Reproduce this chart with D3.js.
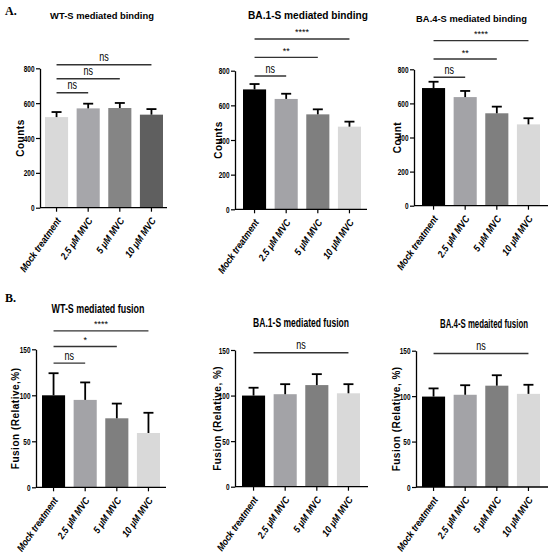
<!DOCTYPE html>
<html lang="en">
<head>
<meta charset="UTF-8">
<title>MVC binding and fusion</title>
<script src="https://d3js.org/d3.v7.min.js"></script>
<style>
  *{margin:0; padding:0; box-sizing:border-box;}
  body{background:#fff;}
  text{font-family:"Liberation Sans",Arial,sans-serif;}
</style>
</head>
<body>
<script>
// groups on the x axis
const groups = ["Mock treatment", "2.5 μM MVC", "5 μM MVC", "10 μM MVC"];

// A. binding counts (mean, upper SD)
const wtBindMean = [520, 570, 572, 534];
const wtBindSd = [29, 27, 29, 32];
const ba1BindMean = [692, 637, 548, 477];
const ba1BindSd = [31, 30, 29, 29];
const ba4BindMean = [690, 637, 542, 477];
const ba4BindSd = [37, 36, 39, 36];

// B. relative fusion %
const wtFusMean = [100, 95, 75, 59];
const wtFusSd = [24, 19, 16, 22];
const ba1FusMean = [100, 101.5, 111.5, 102.5];
const ba1FusSd = [8.6, 11, 12, 10];
const ba4FusMean = [99.5, 101.5, 111.5, 102.5];
const ba4FusSd = [9, 10.5, 11.5, 10];

const bindTicks = [0, 200, 400, 600, 800];
const fusTicks = [0, 50, 100, 150];

// significance: [from, to, label, height in data units]
const wtBindSig = [[0, 1, "ns", 660], [0, 2, "ns", 740], [0, 3, "ns", 820]];
const ba1BindSig = [[0, 1, "ns", 769], [0, 2, "**", 877], [0, 3, "****", 983]];
const ba4BindSig = [[0, 1, "ns", 753], [0, 2, "**", 860], [0, 3, "****", 968]];
const wtFusSig = [[0, 1, "ns", 135], [0, 2, "*", 153], [0, 3, "****", 170]];
const ba1FusSig = [[0, 3, "ns", 147]];
const ba4FusSig = [[0, 3, "ns", 147]];

const greysA = ["#d9d9d9", "#a6a6aa", "#858585", "#5f5f5f"];
const greysB = ["#000000", "#a3a3a7", "#7f7f7f", "#d9d9d9"];

const panels = [
  {title:"WT-S mediated binding", ylab:"Counts", mean:wtBindMean, sd:wtBindSd, sig:wtBindSig, fill:greysA, ticks:bindTicks, max:800,
   ax:40, y0:207.7, y1:68.3, bx:45, xEnd:167, tx:102, ty:18.5, tsize:9.5, tw:104, lx:20},
  {title:"BA.1-S mediated binding", ylab:"Counts", mean:ba1BindMean, sd:ba1BindSd, sig:ba1BindSig, fill:greysB, ticks:bindTicks, max:800,
   ax:235, y0:209.3, y1:70.7, bx:243, xEnd:367, tx:308, ty:19, tsize:10, tw:120, lx:218},
  {title:"BA.4-S mediated binding", ylab:"Count", mean:ba4BindMean, sd:ba4BindSd, sig:ba4BindSig, fill:greysB, ticks:bindTicks, max:800,
   ax:414, y0:205.7, y1:69.3, bx:422, xEnd:548, tx:471.5, ty:22, tsize:9.5, tw:111, lx:397},
  {title:"WT-S mediated fusion", ylab:"Fusion (Relative,%)", mean:wtFusMean, sd:wtFusSd, sig:wtFusSig, fill:greysB, ticks:fusTicks, max:150,
   ax:36, y0:487.3, y1:349.3, bx:42, xEnd:166, tx:98, ty:313, tsize:12, tw:93, lx:15},
  {title:"BA.1-S mediated fusion", ylab:"Fusion (Relative, %)", mean:ba1FusMean, sd:ba1FusSd, sig:ba1FusSig, fill:greysB, ticks:fusTicks, max:150,
   ax:235, y0:486.7, y1:350, bx:242, xEnd:368, tx:301, ty:327, tsize:12, tw:96, lx:217},
  {title:"BA.4-S medaited fusion", ylab:"Fusion (Relative, %)", mean:ba4FusMean, sd:ba4FusSd, sig:ba4FusSig, fill:greysB, ticks:fusTicks, max:150,
   ax:416, y0:487, y1:350.7, bx:422, xEnd:548, tx:484, ty:328, tsize:12, tw:88, lx:396}
];

// squeeze text horizontally (narrow font look)
function condense(sel, f){
  sel.each(function(){
    const w = this.getComputedTextLength();
    d3.select(this).attr("textLength", w * f).attr("lengthAdjust", "spacingAndGlyphs");
  });
}

const svg = d3.select("body").append("svg")
  .attr("width", 550).attr("height", 558);

// panel letters
svg.append("text").attr("x", 5).attr("y", 15).text("A.")
  .style("font-family", "'Liberation Serif','Times New Roman',serif").attr("font-weight", "bold").attr("font-size", 12);
svg.append("text").attr("x", 5).attr("y", 302).text("B.")
  .style("font-family", "'Liberation Serif','Times New Roman',serif").attr("font-weight", "bold").attr("font-size", 12);

panels.forEach(function(p){
  const g = svg.append("g");
  const y = d3.scaleLinear().domain([0, p.max]).range([p.y0, p.y1]);
  const x = d3.scaleBand().domain(groups).range([p.bx, p.bx + 118]).paddingInner(0.27).paddingOuter(0);
  const bw = x.bandwidth();

  // bars
  g.selectAll("rect.bar").data(groups).enter().append("rect")
    .attr("x", function(d){ return x(d); })
    .attr("y", function(d, i){ return y(p.mean[i]); })
    .attr("width", bw)
    .attr("height", function(d, i){ return y(0) - y(p.mean[i]); })
    .attr("fill", function(d, i){ return p.fill[i]; });

  // upper error bars
  const err = g.selectAll("g.err").data(groups).enter().append("g");
  err.append("line")
    .attr("x1", function(d){ return x(d) + bw / 2; })
    .attr("x2", function(d){ return x(d) + bw / 2; })
    .attr("y1", function(d, i){ return y(p.mean[i]); })
    .attr("y2", function(d, i){ return y(p.mean[i] + p.sd[i]); })
    .attr("stroke", "#000").attr("stroke-width", 1.8);
  err.append("line")
    .attr("x1", function(d){ return x(d) + bw / 2 - 5; })
    .attr("x2", function(d){ return x(d) + bw / 2 + 5; })
    .attr("y1", function(d, i){ return y(p.mean[i] + p.sd[i]); })
    .attr("y2", function(d, i){ return y(p.mean[i] + p.sd[i]); })
    .attr("stroke", "#000").attr("stroke-width", 1.8);

  // y axis
  const yAxis = g.append("g").attr("transform", "translate(" + p.ax + ",0)")
    .call(d3.axisLeft(y).tickValues(p.ticks).tickSize(4).tickSizeOuter(0).tickPadding(1.5));
  yAxis.select(".domain").attr("stroke-width", 1.3);
  yAxis.selectAll(".tick line").attr("stroke-width", 1.2);
  yAxis.selectAll(".tick text")
    .style("font-family", "'Liberation Sans',Arial,sans-serif")
    .attr("font-size", 9.5).attr("font-weight", "bold").attr("fill", "#000")
    .call(condense, 0.68);

  // x axis
  g.append("line").attr("x1", p.ax).attr("x2", p.xEnd).attr("y1", y(0)).attr("y2", y(0))
    .attr("stroke", "#000").attr("stroke-width", 1.3);
  g.selectAll("line.xt").data(groups).enter().append("line")
    .attr("x1", function(d){ return x(d) + bw / 2; })
    .attr("x2", function(d){ return x(d) + bw / 2; })
    .attr("y1", y(0)).attr("y2", y(0) + 4)
    .attr("stroke", "#000").attr("stroke-width", 1.2);
  g.selectAll("text.xl").data(groups).enter().append("text")
    .attr("transform", function(d){ return "translate(" + (x(d) + bw / 2 + 2) + "," + (y(0) + 11) + ") rotate(-55)"; })
    .attr("text-anchor", "end").attr("dy", "0.35em")
    .attr("font-size", 10).attr("font-weight", "bold").attr("font-style", "italic")
    .text(function(d){ return d; })
    .call(condense, 0.86);

  // significance brackets
  p.sig.forEach(function(s){
    const xa = x(groups[s[0]]) + bw / 2, xb = x(groups[s[1]]) + bw / 2;
    g.append("line").attr("x1", xa).attr("x2", xb).attr("y1", y(s[3])).attr("y2", y(s[3]))
      .attr("stroke", "#333").attr("stroke-width", 1.4);
    g.append("text")
      .attr("x", (xa + xb) / 2).attr("y", y(s[3]) - 3.5)
      .attr("text-anchor", "middle")
      .attr("font-size", s[2] === "ns" ? 12 : 9)
      .text(s[2])
      .call(condense, s[2] === "ns" ? 0.75 : 1);
  });

  // title: squeezed with a scale transform to the width seen in the figure
  const t = g.append("text")
    .attr("text-anchor", "middle")
    .attr("font-size", p.tsize).attr("font-weight", "bold")
    .text(p.title);
  const sx = p.tw / t.node().getComputedTextLength();
  t.attr("transform", "translate(" + p.tx + "," + p.ty + ") scale(" + sx + ",1)");

  // y label
  g.append("text")
    .attr("transform", "translate(" + p.lx + "," + ((p.y0 + p.y1) / 2) + ") rotate(-90)")
    .attr("text-anchor", "middle").attr("dy", "0.35em")
    .attr("font-size", 10).attr("font-weight", "bold").attr("letter-spacing", 0.5)
    .text(p.ylab);
});
</script>
</body>
</html>
